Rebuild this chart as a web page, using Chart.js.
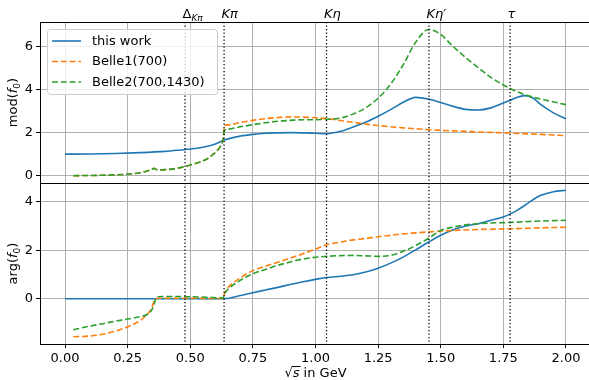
<!DOCTYPE html>
<html>
<head>
<meta charset="utf-8">
<script src="https://cdn.jsdelivr.net/npm/chart.js@4.4.1/dist/chart.umd.min.js"></script>
<style>
html, body { margin: 0; padding: 0; overflow: hidden; background: #fff; }
</style>
</head>
<body>
<canvas id="formFactor" width="600" height="380"></canvas>
<script>
// sqrt(s) in GeV
var workX = [0, 0.1, 0.2, 0.3, 0.4, 0.45, 0.5, 0.55, 0.6, 0.636, 0.7, 0.75, 0.8, 0.85, 0.9, 0.95, 1.0, 1.045, 1.1, 1.15,
    1.2, 1.25, 1.3, 1.35, 1.4, 1.45, 1.5, 1.55, 1.6, 1.65, 1.7, 1.75, 1.777, 1.8, 1.835, 1.87, 1.9, 1.95, 2.0];
var workMod = [1.0, 1.01, 1.03, 1.07, 1.13, 1.18, 1.24, 1.32, 1.47, 1.66, 1.84, 1.92, 1.97, 1.99, 2.0, 1.99, 1.97, 1.95, 2.06, 2.26,
    2.48, 2.76, 3.07, 3.41, 3.64, 3.56, 3.4, 3.22, 3.08, 3.05, 3.15, 3.38, 3.5, 3.62, 3.72, 3.6, 3.3, 2.92, 2.64];
var workArg = [0, 0, 0, 0, 0, 0, 0, 0, 0, 0, 0.13, 0.25, 0.36, 0.47, 0.59, 0.7, 0.8, 0.88, 0.93, 0.99,
    1.1, 1.26, 1.47, 1.72, 2.02, 2.33, 2.62, 2.85, 3.0, 3.1, 3.24, 3.38, 3.5, 3.62, 3.85, 4.1, 4.27, 4.42, 4.48];

var belleX = [0.033, 0.1, 0.15, 0.2, 0.25, 0.3, 0.33, 0.345, 0.355, 0.363, 0.37, 0.4, 0.45, 0.48, 0.5, 0.54, 0.57, 0.59, 0.61, 0.62,
    0.628, 0.632, 0.636, 0.65, 0.7, 0.75, 0.8, 0.85, 0.9, 0.95, 1.0, 1.045, 1.1, 1.15, 1.2, 1.25, 1.3, 1.35, 1.4, 1.452,
    1.5, 1.55, 1.6, 1.65, 1.7, 1.777, 1.85, 1.9, 2.0];
var belle1Mod = [0, 0.01, 0.02, 0.04, 0.07, 0.14, 0.22, 0.29, 0.34, 0.3, 0.27, 0.28, 0.35, 0.43, 0.5, 0.64, 0.8, 0.98, 1.2, 1.36,
    1.55, 1.75, 2.3, 2.36, 2.47, 2.57, 2.65, 2.7, 2.73, 2.72, 2.69, 2.65, 2.56, 2.48, 2.4, 2.33, 2.27, 2.22, 2.18, 2.14,
    2.11, 2.08, 2.06, 2.03, 2.01, 1.98, 1.94, 1.92, 1.86];
var belle2Mod = [0, 0.01, 0.02, 0.04, 0.07, 0.14, 0.22, 0.29, 0.34, 0.3, 0.27, 0.28, 0.35, 0.43, 0.5, 0.64, 0.8, 0.98, 1.2, 1.36,
    1.55, 1.75, 2.1, 2.16, 2.27, 2.37, 2.46, 2.53, 2.57, 2.6, 2.6, 2.62, 2.68, 2.86, 3.15, 3.6, 4.25, 5.15, 6.2, 6.79,
    6.56, 6.0, 5.48, 5.02, 4.57, 4.05, 3.71, 3.56, 3.3];
var belle1Arg = [-1.57, -1.54, -1.47, -1.34, -1.16, -0.9, -0.62, -0.4, -0.12, 0.0, 0.02, 0.02, 0.02, 0.02, 0.02, 0.02, 0.01, 0.01, 0.01, 0.01,
    0.01, 0.02, 0.2, 0.45, 0.86, 1.16, 1.34, 1.51, 1.68, 1.86, 2.05, 2.23, 2.34, 2.43, 2.49, 2.56, 2.62, 2.68, 2.72, 2.76,
    2.79, 2.82, 2.84, 2.86, 2.87, 2.89, 2.91, 2.93, 2.95];
var belle2Arg = [-1.28, -1.13, -1.03, -0.93, -0.84, -0.74, -0.64, -0.48, -0.25, 0.03, 0.08, 0.09, 0.09, 0.08, 0.08, 0.07, 0.06, 0.05, 0.04, 0.04,
    0.03, 0.03, 0.18, 0.38, 0.76, 1.03, 1.21, 1.38, 1.52, 1.64, 1.71, 1.75, 1.78, 1.79, 1.77, 1.75, 1.79, 1.96, 2.2, 2.5,
    2.82, 2.96, 3.05, 3.1, 3.13, 3.15, 3.19, 3.21, 3.24];

var seriesLabels = ['this work', 'Belle1(700)', 'Belle2(700,1430)'];
var seriesColors = ['#1f77b4', '#ff7f0e', '#2ca02c'];

// thresholds marked with dotted lines
var thresholdX = [0.479, 0.635, 1.044, 1.453, 1.777];
var thresholdLabels = [
    [{ text: 'Δ', style: 'up' }, { text: 'Kπ', style: 'sub' }],
    [{ text: 'Kπ', style: 'it' }],
    [{ text: 'Kη', style: 'it' }],
    [{ text: 'Kη′', style: 'it' }],
    [{ text: 'τ', style: 'it' }]
];

var xTicks = [0, 0.25, 0.5, 0.75, 1.0, 1.25, 1.5, 1.75, 2.0];
var modTicks = [0, 2, 4, 6];
var argTicks = [0, 2, 4];

var FONT = '"DejaVu Sans"';
var fonts = {
    up: '13px ' + FONT,
    it: 'italic 13px ' + FONT,
    sub: 'italic 9px ' + FONT,
    subUp: '9px ' + FONT
};

function points(xs, ys) {
    return xs.map(function (x, i) { return { x: x, y: ys[i] }; });
}

function drawParts(ctx, parts, x, y, align) {
    var w = 0;
    parts.forEach(function (p) { ctx.font = fonts[p.style]; w += ctx.measureText(p.text).width; });
    var cx = align === 'center' ? x - w / 2 : x;
    parts.forEach(function (p) {
        ctx.font = fonts[p.style];
        var dy = (p.style === 'sub' || p.style === 'subUp') ? 3 : 0;
        ctx.fillText(p.text, cx, y + dy);
        p._x = cx;
        p._w = ctx.measureText(p.text).width;
        cx += p._w;
    });
}

var extras = {
    id: 'extras',
    afterDatasetsDraw: function (chart) {
        var ctx = chart.ctx, a = chart.chartArea, xs = chart.scales.x;
        ctx.save();
        // dotted threshold lines
        ctx.strokeStyle = '#000';
        ctx.lineWidth = 1.3;
        ctx.setLineDash([1.3, 2.2]);
        thresholdX.forEach(function (v) {
            var px = xs.getPixelForValue(v);
            ctx.beginPath();
            ctx.moveTo(px, a.top);
            ctx.lineTo(px, a.bottom);
            ctx.stroke();
        });
        ctx.setLineDash([]);
        // frame: top, right and the panel divider
        ctx.lineWidth = 1;
        var mid = Math.round(chart.scales.yMod.bottom) + 0.5;
        var top = Math.round(a.top) + 0.5;
        ctx.beginPath();
        ctx.moveTo(a.left, top); ctx.lineTo(a.right, top);
        ctx.moveTo(a.left, mid); ctx.lineTo(a.right, mid);
        ctx.moveTo(Math.round(a.right) + 0.5, a.top); ctx.lineTo(Math.round(a.right) + 0.5, a.bottom);
        ctx.stroke();
        ctx.restore();
    },
    afterDraw: function (chart) {
        var ctx = chart.ctx, xs = chart.scales.x;
        var yMod = chart.scales.yMod, yArg = chart.scales.yArg;
        ctx.save();
        ctx.fillStyle = '#000';
        ctx.textBaseline = 'alphabetic';

        // threshold names above the top panel
        thresholdX.forEach(function (v, i) {
            drawParts(ctx, thresholdLabels[i], xs.getPixelForValue(v) - 2.5, 18, 'left');
        });

        // y axis titles
        [[yMod, 'mod('], [yArg, 'arg(']].forEach(function (e) {
            var cy = (e[0].top + e[0].bottom) / 2;
            ctx.save();
            ctx.translate(17, cy);
            ctx.rotate(-Math.PI / 2);
            drawParts(ctx, [{ text: e[1], style: 'up' }, { text: 'f', style: 'it' },
                { text: '0', style: 'subUp' }, { text: ')', style: 'up' }], 0, 0, 'center');
            ctx.restore();
        });

        // x axis title
        var parts = [{ text: '√', style: 'up' }, { text: 's', style: 'it' }, { text: ' in GeV', style: 'up' }];
        drawParts(ctx, parts, (xs.getPixelForValue(0) + xs.getPixelForValue(2)) / 2, 377, 'center');
        ctx.strokeStyle = '#000';
        ctx.lineWidth = 1;
        ctx.beginPath();
        ctx.moveTo(parts[0]._x + parts[0]._w - 1, 366.5);
        ctx.lineTo(parts[1]._x + parts[1]._w + 1, 366.5);
        ctx.stroke();

        // legend
        var lx = 47, ly = 29, lw = 170, lh = 65;
        ctx.beginPath();
        ctx.roundRect(lx + 0.5, ly + 0.5, lw, lh, 3);
        ctx.fillStyle = 'rgba(255,255,255,0.8)';
        ctx.fill();
        ctx.strokeStyle = '#cccccc';
        ctx.stroke();
        ctx.textBaseline = 'middle';
        ctx.font = fonts.up;
        seriesLabels.forEach(function (label, i) {
            var ry = 41 + i * 20.5;
            ctx.strokeStyle = seriesColors[i];
            ctx.lineWidth = 1.6;
            ctx.setLineDash(i === 0 ? [] : [6, 2.8]);
            ctx.beginPath();
            ctx.moveTo(52, ry);
            ctx.lineTo(81, ry);
            ctx.stroke();
            ctx.fillStyle = '#000';
            ctx.fillText(label, 92, ry + 0.5);
        });
        ctx.restore();
    }
};

function lineSet(label, xs, ys, axis, idx) {
    return {
        label: label,
        data: points(xs, ys),
        yAxisID: axis,
        borderColor: seriesColors[idx],
        borderWidth: 1.6,
        borderDash: idx === 0 ? [] : [6, 2.8],
        pointRadius: 0,
        fill: false,
        cubicInterpolationMode: 'monotone',
        order: 2 - idx
    };
}

var gridStyle = { color: '#b0b0b0', lineWidth: 1, tickColor: '#000', tickLength: 4, tickWidth: 1 };
var borderStyle = { color: '#000', width: 1 };

new Chart(document.getElementById('formFactor'), {
    type: 'line',
    plugins: [extras],
    data: {
        datasets: [
            lineSet(seriesLabels[0], workX, workMod, 'yMod', 0),
            lineSet(seriesLabels[1], belleX, belle1Mod, 'yMod', 1),
            lineSet(seriesLabels[2], belleX, belle2Mod, 'yMod', 2),
            lineSet(seriesLabels[0], workX, workArg, 'yArg', 0),
            lineSet(seriesLabels[1], belleX, belle1Arg, 'yArg', 1),
            lineSet(seriesLabels[2], belleX, belle2Arg, 'yArg', 2)
        ]
    },
    options: {
        responsive: false,
        animation: false,
        layout: { padding: { top: 22, right: 9, bottom: 0, left: 0 } },
        plugins: { legend: { display: false }, tooltip: { enabled: false } },
        font: { family: FONT, size: 13 },
        scales: {
            x: {
                type: 'linear', position: 'bottom', min: -0.1, max: 2.1,
                afterBuildTicks: function (s) { s.ticks = xTicks.map(function (v) { return { value: v }; }); },
                afterFit: function (s) { s.height = 36; },
                ticks: { color: '#000', font: { family: FONT, size: 13 }, padding: 3, maxRotation: 0, autoSkip: false,
                    callback: function (v) { return v.toFixed(2); } },
                grid: gridStyle,
                border: borderStyle
            },
            yArg: {
                type: 'linear', position: 'left', stack: 'f0', stackWeight: 1, weight: 0,
                min: -1.87, max: 4.78,
                afterBuildTicks: function (s) { s.ticks = argTicks.map(function (v) { return { value: v }; }); },
                afterFit: function (s) { s.width = 40; },
                ticks: { color: '#000', font: { family: FONT, size: 13 }, padding: 3,
                    callback: function (v) { return v.toFixed(0); } },
                grid: gridStyle,
                border: borderStyle
            },
            yMod: {
                type: 'linear', position: 'left', stack: 'f0', stackWeight: 1, weight: 1,
                min: -0.34, max: 7.14,
                afterBuildTicks: function (s) { s.ticks = modTicks.map(function (v) { return { value: v }; }); },
                afterFit: function (s) { s.width = 40; },
                ticks: { color: '#000', font: { family: FONT, size: 13 }, padding: 3,
                    callback: function (v) { return v.toFixed(0); } },
                grid: gridStyle,
                border: borderStyle
            }
        }
    }
});
</script>
</body>
</html>
